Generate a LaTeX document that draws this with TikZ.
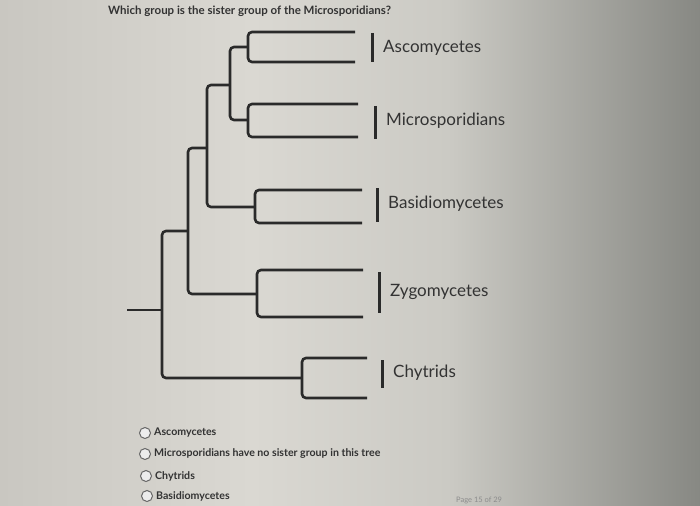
\documentclass[tikz,border=0pt]{standalone}
\usepackage{fontspec}
\setmainfont{Lato}
\usetikzlibrary{positioning,calc}

\definecolor{ink}{HTML}{2A2A2A}
\definecolor{txt}{HTML}{333333}
\definecolor{bgA}{HTML}{C9C7C1}
\definecolor{bgB}{HTML}{DAD8D2}
\definecolor{bgC}{HTML}{CBCAC4}
\definecolor{bgD}{HTML}{878883}
\pgfdeclarehorizontalshading{screen}{100bp}{color(0bp)=(bgA); color(25bp)=(bgA);
  color(43bp)=(bgB); color(57bp)=(bgC); color(75bp)=(bgD); color(100bp)=(bgD)}

\begin{document}
\begin{tikzpicture}[
    x=1pt, y=-1pt,
    branch/.style={line width=2.6pt, ink, rounded corners=4pt},
    tick/.style={line width=3pt, ink},
    taxon/.style={anchor=west, inner sep=0pt, text=txt, font=\fontsize{17}{19}\selectfont},
    radio/.style={circle, draw=black!60, fill=white!85!gray, line width=1pt, minimum size=11pt, inner sep=0pt},
    choice/.style={anchor=west, inner sep=0pt, text=txt, font=\bfseries\fontsize{10.6}{12}\selectfont}
]
    % Screen background
    \useasboundingbox (0,0) rectangle (700,505);
    \shade[shading=screen] (0,0) rectangle (700,505);

    % Question
    \node[anchor=west, inner sep=0pt, text=txt, font=\bfseries\fontsize{11.5}{13}\selectfont] (question) at (108,11)
        {Which group is the sister group of the Microsporidians?};

    % Tips of the branches
    \coordinate (asco1) at (355,32);  \coordinate (asco2) at (355,62);
    \coordinate (micro1) at (358,104); \coordinate (micro2) at (358,137);
    \coordinate (basi1) at (362,190); \coordinate (basi2) at (362,223);
    \coordinate (zygo1) at (363,270); \coordinate (zygo2) at (363,317);
    \coordinate (chyt1) at (367,358); \coordinate (chyt2) at (367,398);

    % Split points
    \coordinate (n-asco) at (248,47);
    \coordinate (n-micro) at (248,120);
    \coordinate (n-basi) at (255,207);
    \coordinate (n-zygo) at (257,294);
    \coordinate (n-chyt) at (302,378);
    \coordinate (n1) at (230,85);
    \coordinate (n2) at (207,148);
    \coordinate (n3) at (188,231);
    \coordinate (n4) at (162,310);
    \coordinate (root) at (127,310);

    % Terminal brackets
    \draw[branch] (asco1) -| (n-asco) |- (asco2);
    \draw[branch] (micro1) -| (n-micro) |- (micro2);
    \draw[branch] (basi1) -| (n-basi) |- (basi2);
    \draw[branch] (zygo1) -| (n-zygo) |- (zygo2);
    \draw[branch] (chyt1) -| (n-chyt) |- (chyt2);

    % Inner branches
    \draw[branch] (n-asco) -| (n1) |- (n-micro);
    \draw[branch] (n1) -| (n2) |- (n-basi);
    \draw[branch] (n2) -| (n3) |- (n-zygo);
    \draw[branch] (n3) -| (n4) |- (n-chyt);
    \draw[branch] (root) -- (n4);

    % Bars and names
    \coordinate (t-asco1) at (372,33);  \coordinate (t-asco2) at (372,62);
    \coordinate (t-micro1) at (375,106); \coordinate (t-micro2) at (375,139);
    \coordinate (t-basi1) at (377,188); \coordinate (t-basi2) at (377,222);
    \coordinate (t-zygo1) at (379,272); \coordinate (t-zygo2) at (379,313);
    \coordinate (t-chyt1) at (382,360); \coordinate (t-chyt2) at (382,388);
    \draw[tick] (t-asco1) -- (t-asco2);
    \draw[tick] (t-micro1) -- (t-micro2);
    \draw[tick] (t-basi1) -- (t-basi2);
    \draw[tick] (t-zygo1) -- (t-zygo2);
    \draw[tick] (t-chyt1) -- (t-chyt2);

    \node[taxon] (asco) at (383,48) {Ascomycetes};
    \node[taxon] (micro) at (386,121) {Microsporidians};
    \node[taxon] (basi) at (388,204) {Basidiomycetes};
    \node[taxon] (zygo) at (390,292) {Zygomycetes};
    \node[taxon] (chyt) at (393,373) {Chytrids};

    % Answer choices
    \node[radio] (r1) at (145,433) {};
    \node[radio] (r2) at (145,454) {};
    \node[radio] (r3) at (146,476) {};
    \node[radio] (r4) at (147,496) {};
    \node[choice, right=3pt of r1] (c1) {Ascomycetes};
    \node[choice, right=3pt of r2] (c2) {Microsporidians have no sister group in this tree};
    \node[choice, right=3pt of r3] (c3) {Chytrids};
    \node[choice, right=3pt of r4] (c4) {Basidiomycetes};

    % Page counter at the lower edge
    \node[anchor=west, inner sep=0pt, text=black!45, font=\fontsize{7.5}{9}\selectfont] (page) at (456,500) {Page 15 of 29};
\end{tikzpicture}
\end{document}
